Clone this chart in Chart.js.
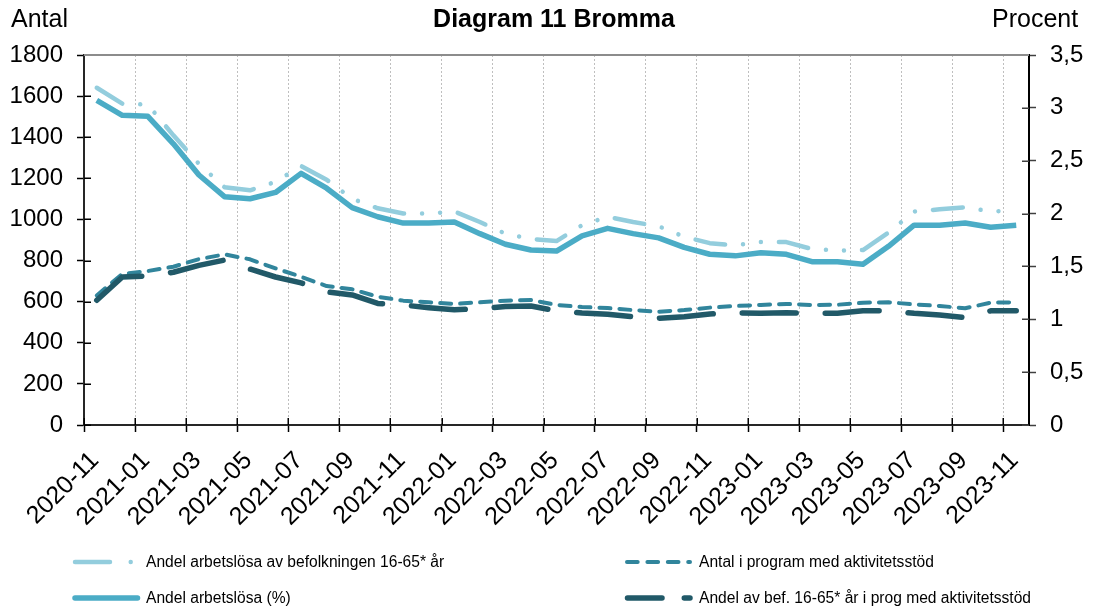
<!DOCTYPE html>
<html>
<head>
<meta charset="utf-8">
<script src="https://cdn.jsdelivr.net/npm/chart.js@4.4.0/dist/chart.umd.min.js"></script>
<style>
  body { margin: 0; background: #fff; font-family: "Liberation Sans", Arial, sans-serif; }
  #wrap { position: relative; width: 1093px; height: 611px; }
  #c { position: absolute; left: 0; top: 0; }
  #keys { position: absolute; left: 0; top: 0; pointer-events: none; }
  .txt { position: absolute; white-space: nowrap; color: #000; }
  .title { left: 0; width: 1108px; top: 4px; text-align: center; font-weight: bold; font-size: 25px; line-height: 28px; }
  .unit { top: 4px; font-size: 25px; line-height: 29px; }
  .key { font-size: 15.6px; line-height: 18px; }
</style>
</head>
<body>
<div id="wrap">
  <canvas id="c" width="1093" height="611"></canvas>
  <div class="txt title">Diagram 11 Bromma</div>
  <div class="txt unit" style="left:11px">Antal</div>
  <div class="txt unit" style="left:992px">Procent</div>

  <svg id="keys" width="1093" height="611">
    <line x1="75" y1="562" x2="140" y2="562" stroke="#93CDDD" stroke-width="4.5" stroke-linecap="round" stroke-dasharray="35 20.7 0.01 100"/>
    <line x1="75" y1="598" x2="137.5" y2="598" stroke="#4BACC6" stroke-width="5.5" stroke-linecap="round"/>
    <line x1="627" y1="562" x2="690" y2="562" stroke="#31859C" stroke-width="4" stroke-linecap="round" stroke-dasharray="10.7 9.7"/>
    <line x1="627.5" y1="598" x2="690" y2="598" stroke="#215968" stroke-width="5.5" stroke-linecap="round" stroke-dasharray="34.5 22.3"/>
  </svg>
  <div class="txt key" style="left:146px; top:553px">Andel arbetslösa av befolkningen 16-65* år</div>
  <div class="txt key" style="left:146px; top:589px">Andel arbetslösa (%)</div>
  <div class="txt key" style="left:699px; top:553px">Antal i program med aktivitetsstöd</div>
  <div class="txt key" style="left:699px; top:589px">Andel av bef. 16-65* år i prog med aktivitetsstöd</div>
</div>

<script>
// months, 2020-11 .. 2023-11
var months = [
  '2020-11', '2020-12', '2021-01', '2021-02', '2021-03', '2021-04', '2021-05', '2021-06',
  '2021-07', '2021-08', '2021-09', '2021-10', '2021-11', '2021-12', '2022-01', '2022-02',
  '2022-03', '2022-04', '2022-05', '2022-06', '2022-07', '2022-08', '2022-09', '2022-10',
  '2022-11', '2022-12', '2023-01', '2023-02', '2023-03', '2023-04', '2023-05', '2023-06',
  '2023-07', '2023-08', '2023-09', '2023-10', '2023-11'
];

// procent (right axis)
var andelBefolkning = [
  3.19, 3.04, 3.03, 2.74, 2.47, 2.25, 2.22, 2.30, 2.45, 2.32, 2.14, 2.05, 2.00,
  2.00, 2.02, 1.92, 1.81, 1.76, 1.74, 1.89, 1.97, 1.92, 1.88, 1.78, 1.72, 1.70,
  1.73, 1.73, 1.665, 1.65, 1.655, 1.82, 2.02, 2.04, 2.06, 2.02, 2.03
];
var andelArbetslosa = [
  3.07, 2.93, 2.92, 2.66, 2.365, 2.16, 2.14, 2.20, 2.38, 2.24, 2.056, 1.97, 1.91,
  1.91, 1.92, 1.81, 1.71, 1.655, 1.645, 1.79, 1.86, 1.81, 1.77, 1.68, 1.615, 1.60,
  1.63, 1.615, 1.545, 1.545, 1.52, 1.69, 1.89, 1.89, 1.91, 1.87, 1.89
];
var andelIProgram = [
  1.18, 1.40, 1.41, 1.445, 1.51, 1.56, 1.475, 1.40, 1.345, 1.26, 1.23, 1.15, 1.135,
  1.11, 1.09, 1.10, 1.12, 1.125, 1.08, 1.06, 1.047, 1.025, 1.01, 1.025, 1.05, 1.06,
  1.057, 1.062, 1.057, 1.057, 1.08, 1.08, 1.057, 1.04, 1.015, 1.08, 1.08
];
// antal (left axis)
var antalIProgram = [
  630, 735, 749, 770, 807, 830, 806, 762, 721, 676, 660, 624, 605,
  597, 589, 597, 605, 608, 584, 574, 569, 559, 551, 559, 571, 579,
  584, 589, 584, 585, 595, 597, 587, 579, 568, 595, 597
];

var leftTicks = { min: 0, max: 1800, step: 200 };
var rightTicks = { min: 0, max: 3.5, step: 0.5 };

function toPoints(arr) {
  return arr.map(function (v, i) { return { x: i + 0.5, y: v }; });
}

Chart.defaults.font.family = '"Liberation Sans", Arial, sans-serif';
Chart.defaults.color = '#000';

// tick marks that cross the axes + grey top frame line
var axisMarks = {
  id: 'axisMarks',
  beforeDatasetsDraw: function (chart) {
    var ctx = chart.ctx, a = chart.chartArea, s = chart.scales;
    ctx.save();
    ctx.lineWidth = 1.5;
    ctx.strokeStyle = '#000';
    ctx.beginPath();
    s.y.ticks.forEach(function (t) {
      var py = Math.round(s.y.getPixelForValue(t.value)) + 0.25;
      ctx.moveTo(a.left, py); ctx.lineTo(a.left + 7, py);
    });
    s.x.ticks.forEach(function (t) {
      var px = Math.round(s.x.getPixelForValue(t.value)) + 0.25;
      ctx.moveTo(px, a.bottom); ctx.lineTo(px, a.bottom - 7);
    });
    ctx.stroke();
    ctx.strokeStyle = '#404040';
    ctx.beginPath();
    s.y1.ticks.forEach(function (t) {
      var py = Math.round(s.y1.getPixelForValue(t.value)) + 0.25;
      ctx.moveTo(a.right, py); ctx.lineTo(a.right - 7, py);
    });
    ctx.stroke();
    ctx.strokeStyle = '#8c8c8c';
    ctx.lineWidth = 2;
    ctx.beginPath();
    ctx.moveTo(a.left, a.top); ctx.lineTo(a.right, a.top);
    ctx.stroke();
    ctx.restore();
  }
};

new Chart(document.getElementById('c'), {
  type: 'line',
  data: {
    datasets: [
      {
        label: 'Andel av bef. 16-65* år i prog med aktivitetsstöd',
        data: toPoints(andelIProgram),
        yAxisID: 'y1',
        borderColor: '#215968',
        borderWidth: 5.5,
        borderDash: [54, 29],
        borderCapStyle: 'round'
      },
      {
        label: 'Antal i program med aktivitetsstöd',
        data: toPoints(antalIProgram),
        yAxisID: 'y',
        borderColor: '#31859C',
        borderWidth: 4,
        borderDash: [11, 9],
        borderCapStyle: 'round'
      },
      {
        label: 'Andel arbetslösa (%)',
        data: toPoints(andelArbetslosa),
        yAxisID: 'y1',
        borderColor: '#4BACC6',
        borderWidth: 5.5
      },
      {
        label: 'Andel arbetslösa av befolkningen 16-65* år',
        data: toPoints(andelBefolkning),
        yAxisID: 'y1',
        borderColor: '#93CDDD',
        borderWidth: 4.5,
        borderDash: [30, 18, 0.01, 18, 0.01, 18],
        borderCapStyle: 'round'
      }
    ]
  },
  options: {
    responsive: false,
    animation: false,
    events: [],
    elements: {
      point: { radius: 0 },
      line: { tension: 0, borderJoinStyle: 'round', fill: false }
    },
    layout: { padding: { top: 55, left: 0, right: 0, bottom: 0 } },
    plugins: { legend: { display: false }, tooltip: { enabled: false } },
    scales: {
      x: {
        type: 'linear',
        min: 0,
        max: months.length,
        afterFit: function (s) { s.height = 186; },
        grid: { color: '#BFBFBF', lineWidth: 1, tickLength: 7, tickColor: '#000', tickWidth: 1.5 },
        border: { color: '#262626', width: 2, dash: [2, 2] },
        ticks: {
          stepSize: 2,
          includeBounds: false,
          autoSkip: false,
          minRotation: 45,
          maxRotation: 45,
          padding: 14,
          labelOffset: 11,
          font: { size: 25 },
          callback: function (v) { return months[v]; }
        }
      },
      y: {
        position: 'left',
        min: leftTicks.min,
        max: leftTicks.max,
        afterFit: function (s) { s.width = 84; },
        grid: { drawOnChartArea: false, tickLength: 7, tickColor: '#000', tickWidth: 1.5 },
        border: { color: '#262626', width: 2 },
        ticks: {
          stepSize: leftTicks.step,
          padding: 14,
          font: { size: 24 },
          callback: function (v) { return String(v); }
        }
      },
      y1: {
        position: 'right',
        min: rightTicks.min,
        max: rightTicks.max,
        afterFit: function (s) { s.width = 64; },
        grid: { drawOnChartArea: false, tickLength: 7, tickColor: '#404040', tickWidth: 1.5 },
        border: { color: '#000', width: 2 },
        ticks: {
          stepSize: rightTicks.step,
          padding: 14,
          font: { size: 24 },
          callback: function (v) { return String(v).replace('.', ','); }
        }
      }
    }
  },
  plugins: [axisMarks]
});
</script>
</body>
</html>
